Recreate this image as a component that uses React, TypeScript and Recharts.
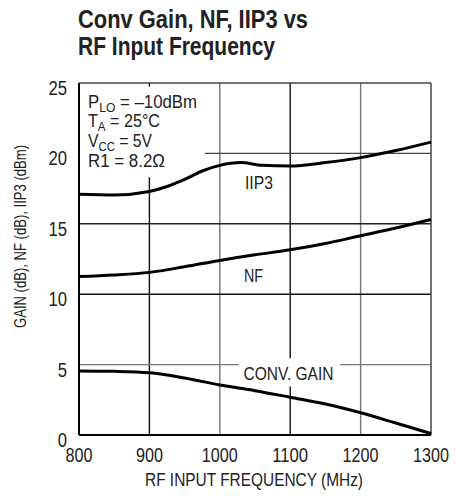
import React from 'react';
import { LineChart, Line, XAxis, YAxis, ReferenceLine } from 'recharts';

const FONT = "'Liberation Sans', Arial, sans-serif";

// frequência (MHz) e valores
const iip3Freq = [800, 850, 900, 925, 950, 975, 1000, 1030, 1060, 1100, 1150, 1200, 1250, 1300];
const iip3Vals = [17.1, 17.05, 17.3, 17.65, 18.15, 18.75, 19.15, 19.35, 19.15, 19.1, 19.35, 19.7, 20.2, 20.8];

const nfFreq = [800, 850, 900, 950, 1000, 1050, 1100, 1150, 1200, 1250, 1300];
const nfVals = [11.25, 11.36, 11.55, 11.95, 12.4, 12.8, 13.15, 13.6, 14.15, 14.7, 15.3];

const gainFreq = [800, 850, 900, 950, 1000, 1050, 1100, 1150, 1200, 1250, 1300];
const gainVals = [4.55, 4.52, 4.42, 4.05, 3.55, 3.15, 2.68, 2.2, 1.58, 0.85, 0.1];

const xTicks = [800, 900, 1000, 1100, 1200, 1300];
const yTicks = [0, 5, 10, 15, 20, 25];

// linhas de grade (interrompidas onde há texto)
const vGrid = [
  { x: 900, color: '#111', parts: [[25, 24.75], [18.3, 0]] },
  { x: 1000, color: '#777', parts: [[25, 0]] },
  { x: 1100, color: '#111', parts: [[25, 5.45], [3.45, 0]] },
  { x: 1200, color: '#777', parts: [[25, 0]] },
];
const hGrid = [
  { y: 20, color: '#444', parts: [[979, 1300]] },
  { y: 15, color: '#222', parts: [[800, 1300]] },
  { y: 10, color: '#111', parts: [[800, 1300]] },
  { y: 5, color: '#777', parts: [[800, 1027], [1171, 1300]] },
];

const toPoints = (f: number[], v: number[]) => f.map((x, i) => ({ f: x, v: v[i] }));

// fonte condensada simulada: comprime o texto até a largura medida
const Narrow = ({ w, children, ...rest }: any) => (
  <text fontFamily={FONT} textLength={w} lengthAdjust="spacingAndGlyphs" {...rest}>
    {children}
  </text>
);

const XTick = ({ x, y, payload }: any) => (
  <Narrow x={x} y={y + 26.5} w={String(payload.value).length * 9} textAnchor="middle" fontSize={20} fill="#222">
    {payload.value}
  </Narrow>
);

const YTick = ({ x, y, payload }: any) => (
  <Narrow x={x} y={y + 12} w={String(payload.value).length * 9.3} textAnchor="end" fontSize={20} fill="#222">
    {payload.value}
  </Narrow>
);

export default function App() {
  return (
    <div style={{ position: 'absolute', left: 0, top: 0, width: 456, height: 496, background: '#fff' }}>
      <LineChart width={456} height={496} margin={{ top: 83, right: 25, bottom: 0, left: 0 }}>
        <XAxis
          dataKey="f"
          type="number"
          domain={[800, 1300]}
          ticks={xTicks}
          tick={<XTick />}
          tickLine={false}
          tickSize={0}
          tickMargin={0}
          height={61}
          axisLine={{ stroke: '#000', strokeWidth: 2 }}
          allowDuplicatedCategory={false}
        />
        <YAxis
          type="number"
          domain={[0, 25]}
          ticks={yTicks}
          tick={<YTick />}
          tickLine={false}
          tickSize={0}
          tickMargin={12}
          width={79}
          axisLine={{ stroke: '#000', strokeWidth: 2 }}
        />
        {vGrid.flatMap((g) =>
          g.parts.map((p, i) => (
            <ReferenceLine
              key={`v${g.x}-${i}`}
              segment={[{ x: g.x, y: p[0] }, { x: g.x, y: p[1] }]}
              stroke={g.color}
              strokeWidth={1.4}
            />
          ))
        )}
        {hGrid.flatMap((g) =>
          g.parts.map((p, i) => (
            <ReferenceLine
              key={`h${g.y}-${i}`}
              segment={[{ x: p[0], y: g.y }, { x: p[1], y: g.y }]}
              stroke={g.color}
              strokeWidth={1.4}
            />
          ))
        )}
        <ReferenceLine y={25} stroke="#444" strokeWidth={1.5} />
        <ReferenceLine x={1300} stroke="#444" strokeWidth={1.5} />
        <Line data={toPoints(iip3Freq, iip3Vals)} dataKey="v" type="monotone" stroke="#000" strokeWidth={3} dot={false} isAnimationActive={false} />
        <Line data={toPoints(nfFreq, nfVals)} dataKey="v" type="monotone" stroke="#000" strokeWidth={3} dot={false} isAnimationActive={false} />
        <Line data={toPoints(gainFreq, gainVals)} dataKey="v" type="monotone" stroke="#000" strokeWidth={3} dot={false} isAnimationActive={false} />
      </LineChart>
      <svg width={456} height={496} style={{ position: 'absolute', left: 0, top: 0, pointerEvents: 'none' }}>
        <g fill="#222">
          <Narrow x={78} y={28} w={230} fontSize={26} fontWeight="bold">Conv Gain, NF, IIP3 vs</Narrow>
          <Narrow x={78} y={55} w={197} fontSize={26} fontWeight="bold">RF Input Frequency</Narrow>

          <g fontSize={18}>
            <Narrow x={88} y={108} w={109}>
              P<tspan fontSize={13} dy={4}>LO</tspan><tspan dy={-4}> = –10dBm</tspan>
            </Narrow>
            <Narrow x={88} y={127} w={72}>
              T<tspan fontSize={13} dy={4}>A</tspan><tspan dy={-4}> = 25°C</tspan>
            </Narrow>
            <Narrow x={88} y={147} w={64}>
              V<tspan fontSize={13} dy={4}>CC</tspan><tspan dy={-4}> = 5V</tspan>
            </Narrow>
            <Narrow x={88} y={167} w={77}>R1 = 8.2Ω</Narrow>
          </g>

          <Narrow x={245} y={189} w={28} fontSize={18}>IIP3</Narrow>
          <Narrow x={244} y={281.5} w={19} fontSize={18}>NF</Narrow>
          <Narrow x={243.5} y={379.5} w={90} fontSize={18}>CONV. GAIN</Narrow>

          <Narrow x={145} y={486} w={218} fontSize={19}>RF INPUT FREQUENCY (MHz)</Narrow>
          <Narrow x={26} y={328} w={183} fontSize={16} transform="rotate(-90 26 328)">
            GAIN (dB), NF (dB), IIP3 (dBm)
          </Narrow>
        </g>
      </svg>
    </div>
  );
}
